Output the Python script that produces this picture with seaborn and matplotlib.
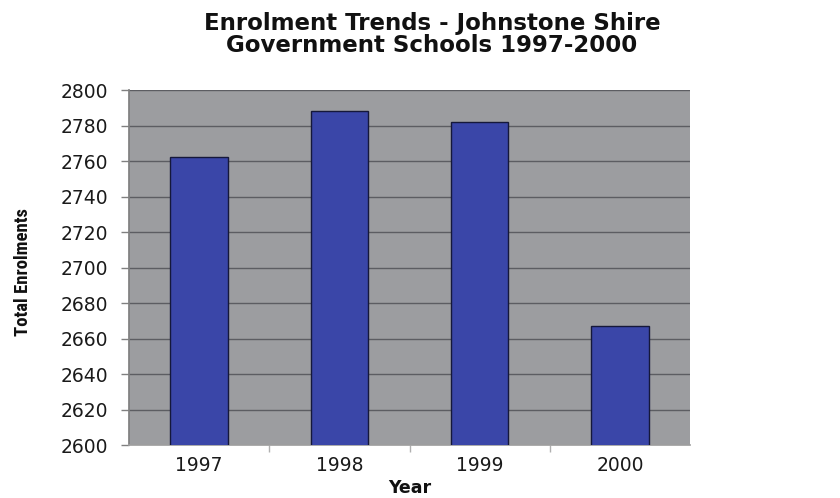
import matplotlib
matplotlib.use("Agg")
import matplotlib.pyplot as plt
from matplotlib import font_manager
import seaborn as sns
import pandas as pd

years = ["1997", "1998", "1999", "2000"]
enrolments = [2762, 2788, 2782, 2667]
y_ticks = list(range(2600, 2801, 20))

title = "Enrolment Trends - Johnstone Shire\nGovernment Schools 1997-2000"
x_label = "Year"
y_label = "Total Enrolments"

df = pd.DataFrame({"Year": years, "Enrolments": enrolments})

sns.set_theme(style="white")
plt.rcParams['font.family'] = ['DejaVu Sans']

# pick a condensed face for the y label if one is installed
installed = {f.name for f in font_manager.fontManager.ttflist}
narrow = None
for cand in ["Liberation Sans Narrow", "Roboto Condensed", "Open Sans Condensed",
             "DejaVu Sans Condensed", "Noto Sans Condensed"]:
    if cand in installed:
        narrow = cand
        break
if narrow:
    ylab_family = [narrow, "DejaVu Sans"]
    ylab_size = 13.5
    ylab_stretch = "condensed"
else:
    ylab_family = ["Liberation Sans", "DejaVu Sans"]
    ylab_size = 11.5
    ylab_stretch = "normal"

fig = plt.figure(figsize=(8.4, 4.98), dpi=100)
ax = fig.add_axes([129/840, 1-445/498, (690-129)/840, (445-90)/498])
ax.set_facecolor("#9c9da0")

sns.barplot(data=df, x="Year", y="Enrolments", color="#3a46a8", width=0.41,
            edgecolor="#15183a", linewidth=1.0, saturation=1, ax=ax, zorder=3)

ax.set_ylim(2600, 2800)
ax.set_xlim(-0.5, 3.5)
ax.set_yticks(y_ticks)
ax.set_yticklabels([str(t) for t in y_ticks], fontsize=13.5, color="#1a1a1a")
ax.yaxis.grid(True, color="#5c5d62", linewidth=1.0, zorder=1)
ax.set_axisbelow(True)
ax.tick_params(axis="y", length=6, width=1, color="#808080", pad=9, left=True)
ax.set_xticks(range(len(years)))
ax.set_xticklabels(years, fontsize=13.5, color="#1a1a1a")
ax.set_xticks([0.5, 1.5, 2.5], minor=True)
ax.tick_params(axis="x", which="major", length=0, pad=8)
ax.tick_params(axis="x", which="minor", length=5, width=1, color="#b0b0b0", bottom=True)

for s in ["top", "right"]:
    ax.spines[s].set_visible(False)
ax.spines["left"].set_color("#808080")
ax.spines["bottom"].set_color("#a0a0a0")

ax.set_xlabel(x_label, fontsize=12.5, fontweight="bold", color="#111111")
ax.xaxis.set_label_coords((410-129)/(690-129), -(488-445)/(445-90))
ax.xaxis.label.set_va("center")
ax.set_ylabel(y_label, fontsize=ylab_size, fontweight="bold", color="#111111",
              family=ylab_family, fontstretch=ylab_stretch)
ax.yaxis.set_label_coords(-(129-23)/(690-129), (445-272)/(445-90))
ax.yaxis.label.set_va("center")

fig.text(432/840, 1-34.5/498, title, ha="center", va="center", fontsize=16.5,
         fontweight="bold", color="#111111", linespacing=0.98)

fig.savefig("out.png", dpi=100)
